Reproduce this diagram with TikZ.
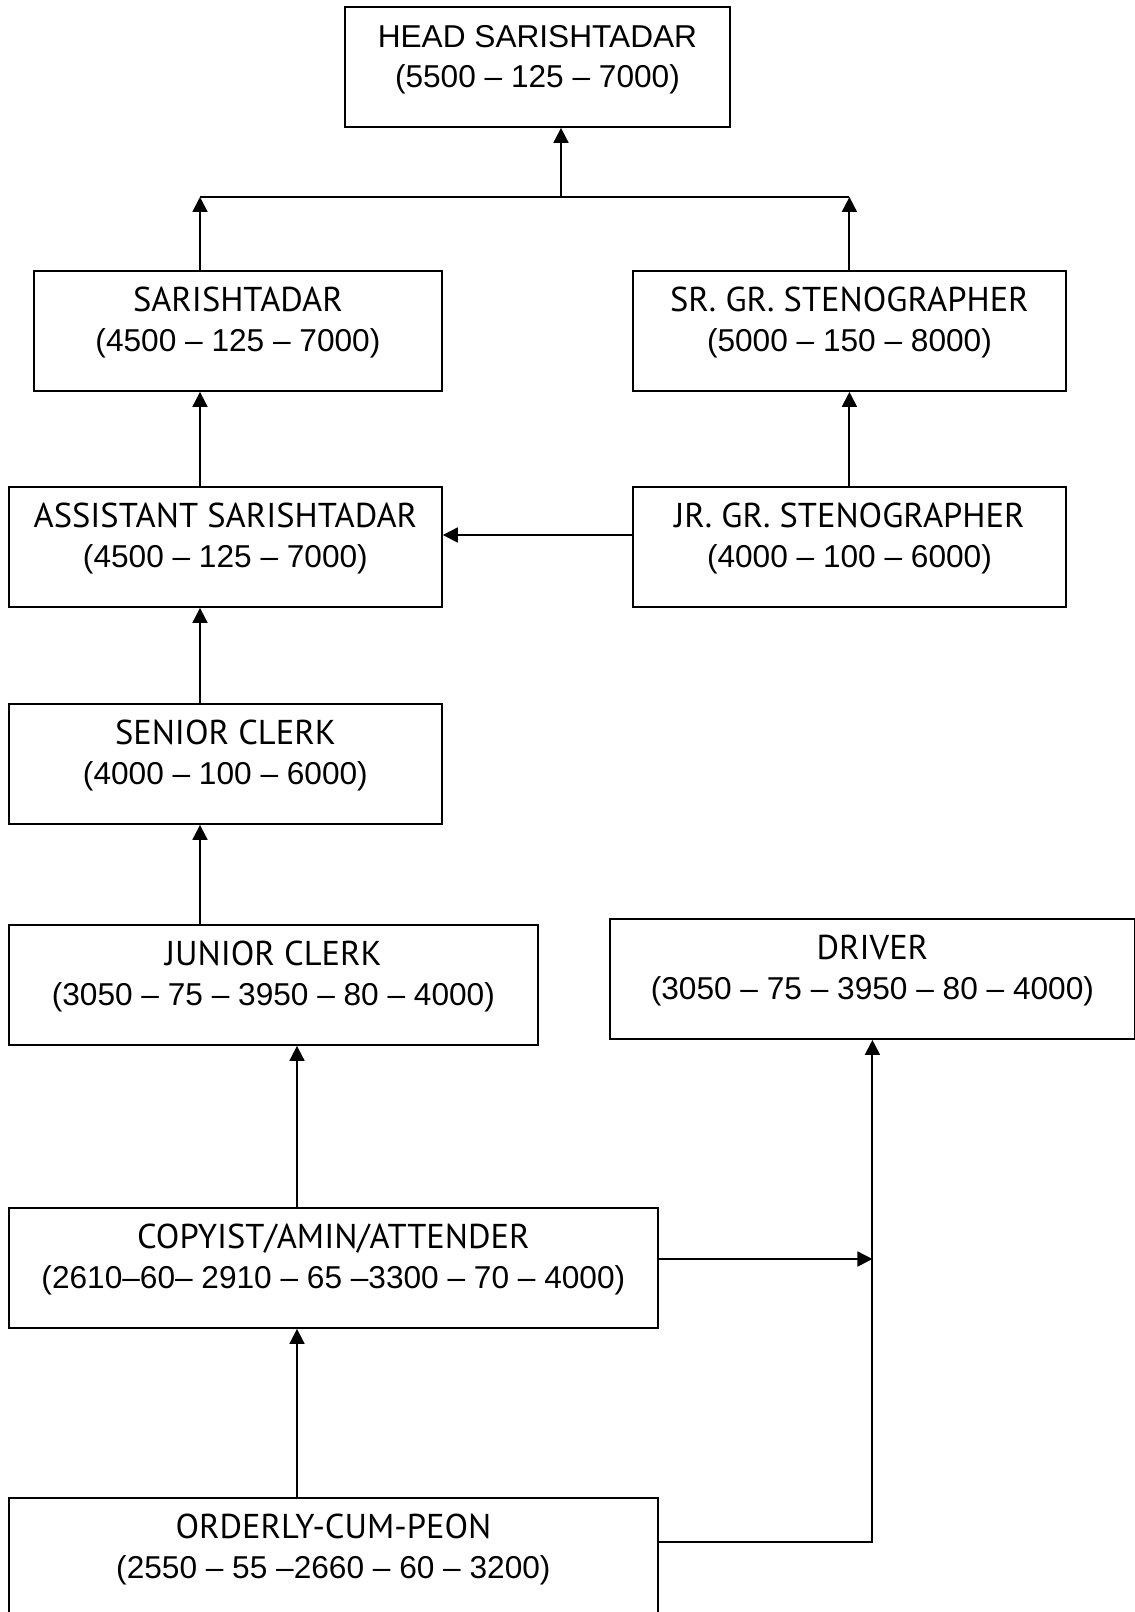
\documentclass[tikz,border=0pt]{standalone}
\usepackage{fontspec}
\setmainfont{Liberation Sans}
\newfontfamily\titlefont[Scale=1.09]{PT Sans}
\usetikzlibrary{arrows.meta}

\begin{document}
\begin{tikzpicture}[x=0.02cm,y=-0.02cm,line width=1.1pt,
  >={Triangle[length=8.5pt,width=8.5pt]},
  post/.style={draw,rectangle,anchor=north west,align=center,
    inner xsep=0pt,inner ysep=0pt,minimum height=2.4cm,
    text height=1.62cm,text depth=0.78cm,
    font=\fontsize{18}{23.2}\selectfont}]
  \useasboundingbox (0,0) rectangle (1135,1612);

  % posts
  \node[post,minimum width=7.7cm]   (head) at (344,6)   {HEAD SARISHTADAR\\(5500 – 125 – 7000)};
  \node[post,minimum width=8.16cm]  (sar)  at (33,270)  {{\titlefont SARISHTADAR}\\(4500 – 125 – 7000)};
  \node[post,minimum width=8.66cm]  (srs)  at (632,270) {{\titlefont SR. GR. STENOGRAPHER}\\(5000 – 150 – 8000)};
  \node[post,minimum width=8.66cm]  (asst) at (8,486)   {{\titlefont ASSISTANT SARISHTADAR}\\(4500 – 125 – 7000)};
  \node[post,minimum width=8.66cm]  (jrs)  at (632,486) {{\titlefont JR. GR. STENOGRAPHER}\\(4000 – 100 – 6000)};
  \node[post,minimum width=8.66cm]  (snr)  at (8,703)   {{\titlefont SENIOR CLERK}\\(4000 – 100 – 6000)};
  \node[post,minimum width=10.58cm] (jnr)  at (8,924)   {{\titlefont JUNIOR CLERK}\\(3050 – 75 – 3950 – 80 – 4000)};
  \node[post,minimum width=10.5cm]  (drv)  at (609,918) {{\titlefont DRIVER}\\(3050 – 75 – 3950 – 80 – 4000)};
  \node[post,minimum width=12.98cm] (cop)  at (8,1207)  {{\titlefont COPYIST/AMIN/ATTENDER}\\(2610–60– 2910 – 65 –3300 – 70 – 4000)};
  \node[post,minimum width=12.98cm] (ord)  at (8,1497)  {{\titlefont ORDERLY-CUM-PEON}\\(2550 – 55 –2660 – 60 – 3200)};

  % junctions
  \coordinate (jl) at (200,197);
  \coordinate (jr) at (srs.north |- jl);
  \coordinate (jm) at (561,197);
  \coordinate (jd) at (drv.south |- 0,1542);

  % connectors
  \draw[->] (sar.north -| jl) -- (jl);
  \draw (jl) -- (jr);
  \draw[->] (srs.north) -- (jr);
  \draw[->] (jm) -- (head.south -| jm);
  \draw[->] (asst.north -| jl) -- (sar.south -| jl);
  \draw[->] (jrs.north) -- (srs.south);
  \draw[->] (jrs.west |- 0,535) -- (asst.east |- 0,535);
  \draw[->] (snr.north -| jl) -- (asst.south -| jl);
  \draw[->] (jnr.north -| jl) -- (snr.south -| jl);
  \draw[->] (cop.north -| 297,0) -- (jnr.south -| 297,0);
  \draw[->] (ord.north -| 297,0) -- (cop.south -| 297,0);
  \draw[->] (cop.east |- 0,1259) -- (jd |- 0,1259);
  \draw[->] (ord.east |- jd) -- (jd) -- (drv.south);
\end{tikzpicture}
\end{document}
